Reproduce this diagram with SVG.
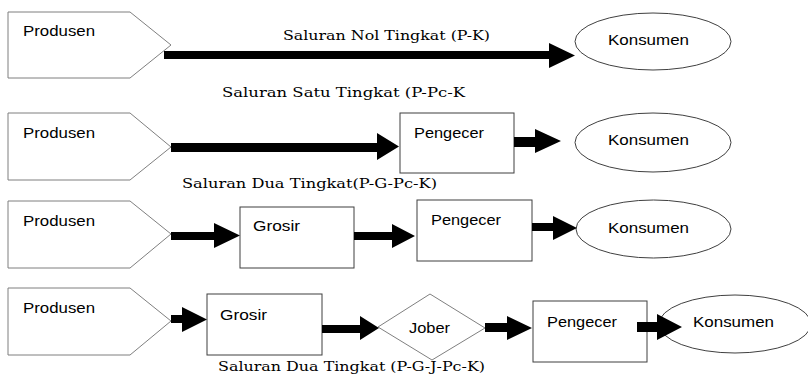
<svg xmlns="http://www.w3.org/2000/svg" width="808" height="378" viewBox="0 0 808 378">
<style>
.bg{fill:#ffffff}
.pent{fill:#ffffff;stroke:#7f7f7f;stroke-width:1}
.box{fill:#ffffff;stroke:#3f3f3f;stroke-width:1}
.ell{fill:#ffffff;stroke:#404040;stroke-width:1}
.dia{fill:#ffffff;stroke:#7f7f7f;stroke-width:1}
.lbl{font-family:"Liberation Sans",Arial,sans-serif;font-size:15px;fill:#000000}
.ttl{font-family:"DejaVu Serif","Liberation Serif",serif;font-size:13.5px;fill:#000000}
.arr{fill:#000000;stroke:none}
</style>
<rect class="bg" x="0" y="0" width="808" height="378"/>

<g id="titles">
<text class="ttl" x="283" y="40" textLength="207" lengthAdjust="spacingAndGlyphs">Saluran Nol Tingkat (P-K)</text>
<text class="ttl" x="222" y="97" textLength="243" lengthAdjust="spacingAndGlyphs">Saluran Satu Tingkat (P-Pc-K</text>
<text class="ttl" x="182" y="188" textLength="255" lengthAdjust="spacingAndGlyphs">Saluran Dua Tingkat(P-G-Pc-K)</text>
<text class="ttl" x="218" y="371" textLength="267" lengthAdjust="spacingAndGlyphs">Saluran Dua Tingkat (P-G-J-Pc-K)</text>
</g>

<!-- Row 1 -->
<g id="produsen1">
<polygon class="pent" points="8,12 130,12 171,45 130,78 8,78"/>
<text class="lbl" x="23" y="36" textLength="72" lengthAdjust="spacingAndGlyphs">Produsen</text>
</g>
<g id="konsumen1">
<ellipse class="ell" cx="653" cy="41.5" rx="78" ry="28.5"/>
<text class="lbl" x="608" y="45" textLength="81" lengthAdjust="spacingAndGlyphs">Konsumen</text>
</g>

<!-- Row 2 -->
<g id="produsen2">
<polygon class="pent" points="8,113 130,113 171,147 130,180 8,180"/>
<text class="lbl" x="23" y="138" textLength="72" lengthAdjust="spacingAndGlyphs">Produsen</text>
</g>
<g id="pengecer2">
<rect class="box" x="400" y="113" width="114" height="60"/>
<text class="lbl" x="414" y="138" textLength="70" lengthAdjust="spacingAndGlyphs">Pengecer</text>
</g>
<g id="konsumen2">
<ellipse class="ell" cx="653" cy="142.5" rx="78" ry="29.5"/>
<text class="lbl" x="608" y="145" textLength="81" lengthAdjust="spacingAndGlyphs">Konsumen</text>
</g>

<!-- Row 3 -->
<g id="produsen3">
<polygon class="pent" points="8,201 130,201 171,234 130,268 8,268"/>
<text class="lbl" x="23" y="226" textLength="72" lengthAdjust="spacingAndGlyphs">Produsen</text>
</g>
<g id="grosir3">
<rect class="box" x="240" y="207" width="114" height="61"/>
<text class="lbl" x="253" y="231" textLength="47" lengthAdjust="spacingAndGlyphs">Grosir</text>
</g>
<g id="pengecer3">
<rect class="box" x="417" y="200" width="115" height="61"/>
<text class="lbl" x="431" y="225" textLength="70" lengthAdjust="spacingAndGlyphs">Pengecer</text>
</g>
<g id="konsumen3">
<ellipse class="ell" cx="653.5" cy="229" rx="77.5" ry="29"/>
<text class="lbl" x="608" y="233" textLength="81" lengthAdjust="spacingAndGlyphs">Konsumen</text>
</g>

<!-- Row 4 -->
<g id="produsen4">
<polygon class="pent" points="8,288 130,288 171,321 130,355 8,355"/>
<text class="lbl" x="23" y="313" textLength="72" lengthAdjust="spacingAndGlyphs">Produsen</text>
</g>
<g id="grosir4">
<rect class="box" x="207" y="294" width="115" height="61"/>
<text class="lbl" x="220" y="320" textLength="47" lengthAdjust="spacingAndGlyphs">Grosir</text>
</g>
<g id="jober4">
<polygon class="dia" points="378,327 430,294 485,328 432,360"/>
<text class="lbl" x="409" y="333" textLength="41" lengthAdjust="spacingAndGlyphs">Jober</text>
</g>
<g id="pengecer4">
<rect class="box" x="533" y="301" width="114" height="61"/>
<text class="lbl" x="547" y="327" textLength="70" lengthAdjust="spacingAndGlyphs">Pengecer</text>
</g>
<g id="konsumen4">
<ellipse class="ell" cx="735" cy="324" rx="76" ry="29"/>
<text class="lbl" x="693" y="327" textLength="81" lengthAdjust="spacingAndGlyphs">Konsumen</text>
</g>

<g id="connectors">
<polygon class="arr" points="164,51 549,51 549,43 575,55.5 549,68 549,59 164,59"/>
<polygon class="arr" points="171,143 377,143 377,133 399,146.5 377,160 377,152 171,152"/>
<polygon class="arr" points="514,137 535,137 535,129 561,141 535,153 535,147 514,147"/>
<polygon class="arr" points="171,232 214,232 214,223 240,235.5 214,248 214,240 171,240"/>
<polygon class="arr" points="354,232 392,232 392,224 415,236 392,248 392,240 354,240"/>
<polygon class="arr" points="532,223 553,223 553,216 577,228 553,240 553,231 532,231"/>
<polygon class="arr" points="171,315 182,315 182,307 207,319.5 182,332 182,323 171,323"/>
<polygon class="arr" points="322,325 360,325 360,316 379,328 360,340 360,333 322,333"/>
<polygon class="arr" points="485,323 507,323 507,316 532,328 507,340 507,332 485,332"/>
<polygon class="arr" points="637,322 657,322 657,314 682,327 657,340 657,332 637,332"/>
</g>
</svg>
